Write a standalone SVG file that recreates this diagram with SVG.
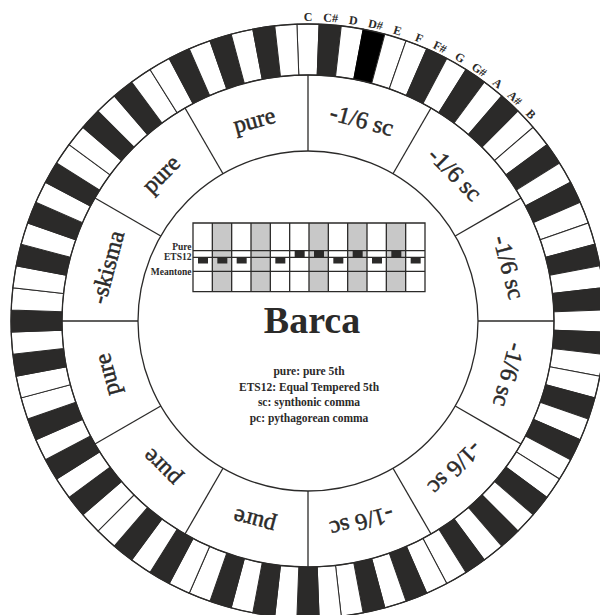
<svg xmlns="http://www.w3.org/2000/svg" xmlns:xlink="http://www.w3.org/1999/xlink" width="600" height="615" viewBox="0 0 600 615">
<style>
.ln{stroke:#2b2a29;stroke-width:1.3;fill:none}
.wk{fill:#ffffff;stroke:#2b2a29;stroke-width:1}
.bk{fill:#2b2a29;stroke:#2b2a29;stroke-width:1}
.hk{fill:#000000;stroke:#000000;stroke-width:1}
.sec{font-family:"Liberation Serif",serif;font-size:24px;fill:#2b2a29;stroke:#2b2a29;stroke-width:0.5;text-anchor:middle}
.kl{font-family:"Liberation Serif",serif;font-weight:bold;font-size:12px;fill:#2b2a29;text-anchor:middle}
.cl{font-family:"Liberation Serif",serif;font-weight:bold;font-size:9.5px;fill:#2b2a29;text-anchor:end}
.lg{font-family:"Liberation Serif",serif;font-weight:bold;font-size:11.5px;fill:#2b2a29;text-anchor:middle}
.ttl{font-family:"Liberation Serif",serif;font-weight:bold;font-size:38px;fill:#2b2a29;text-anchor:middle}
.gr{fill:#c8c8c8}
.mk{fill:#2b2a29}
</style>
<defs>
<path id="key" d="M296.895,24.21 A297,297 0 0 1 319.105,24.21 L317.198,75.17 A246,246 0 0 0 298.802,75.17 Z"/>
<line id="sl" x1="308" y1="151" x2="308" y2="75"/>
</defs>
<rect width="600" height="615" fill="#ffffff"/>
<g id="keyring">
<use xlink:href="#key" class="wk" transform="rotate(0 308 321)"/>
<use xlink:href="#key" class="bk" transform="rotate(4.285714 308 321)"/>
<use xlink:href="#key" class="wk" transform="rotate(8.571429 308 321)"/>
<use xlink:href="#key" class="hk" transform="rotate(12.857143 308 321)"/>
<use xlink:href="#key" class="wk" transform="rotate(17.142857 308 321)"/>
<use xlink:href="#key" class="wk" transform="rotate(21.428571 308 321)"/>
<use xlink:href="#key" class="bk" transform="rotate(25.714286 308 321)"/>
<use xlink:href="#key" class="wk" transform="rotate(30 308 321)"/>
<use xlink:href="#key" class="bk" transform="rotate(34.285714 308 321)"/>
<use xlink:href="#key" class="wk" transform="rotate(38.571429 308 321)"/>
<use xlink:href="#key" class="bk" transform="rotate(42.857143 308 321)"/>
<use xlink:href="#key" class="wk" transform="rotate(47.142857 308 321)"/>
<use xlink:href="#key" class="wk" transform="rotate(51.428571 308 321)"/>
<use xlink:href="#key" class="bk" transform="rotate(55.714286 308 321)"/>
<use xlink:href="#key" class="wk" transform="rotate(60 308 321)"/>
<use xlink:href="#key" class="bk" transform="rotate(64.285714 308 321)"/>
<use xlink:href="#key" class="wk" transform="rotate(68.571429 308 321)"/>
<use xlink:href="#key" class="wk" transform="rotate(72.857143 308 321)"/>
<use xlink:href="#key" class="bk" transform="rotate(77.142857 308 321)"/>
<use xlink:href="#key" class="wk" transform="rotate(81.428571 308 321)"/>
<use xlink:href="#key" class="bk" transform="rotate(85.714286 308 321)"/>
<use xlink:href="#key" class="wk" transform="rotate(90 308 321)"/>
<use xlink:href="#key" class="bk" transform="rotate(94.285714 308 321)"/>
<use xlink:href="#key" class="wk" transform="rotate(98.571429 308 321)"/>
<use xlink:href="#key" class="wk" transform="rotate(102.857143 308 321)"/>
<use xlink:href="#key" class="bk" transform="rotate(107.142857 308 321)"/>
<use xlink:href="#key" class="wk" transform="rotate(111.428571 308 321)"/>
<use xlink:href="#key" class="bk" transform="rotate(115.714286 308 321)"/>
<use xlink:href="#key" class="wk" transform="rotate(120 308 321)"/>
<use xlink:href="#key" class="wk" transform="rotate(124.285714 308 321)"/>
<use xlink:href="#key" class="bk" transform="rotate(128.571429 308 321)"/>
<use xlink:href="#key" class="wk" transform="rotate(132.857143 308 321)"/>
<use xlink:href="#key" class="bk" transform="rotate(137.142857 308 321)"/>
<use xlink:href="#key" class="wk" transform="rotate(141.428571 308 321)"/>
<use xlink:href="#key" class="bk" transform="rotate(145.714286 308 321)"/>
<use xlink:href="#key" class="wk" transform="rotate(150 308 321)"/>
<use xlink:href="#key" class="wk" transform="rotate(154.285714 308 321)"/>
<use xlink:href="#key" class="bk" transform="rotate(158.571429 308 321)"/>
<use xlink:href="#key" class="wk" transform="rotate(162.857143 308 321)"/>
<use xlink:href="#key" class="bk" transform="rotate(167.142857 308 321)"/>
<use xlink:href="#key" class="wk" transform="rotate(171.428571 308 321)"/>
<use xlink:href="#key" class="wk" transform="rotate(175.714286 308 321)"/>
<use xlink:href="#key" class="bk" transform="rotate(180 308 321)"/>
<use xlink:href="#key" class="wk" transform="rotate(184.285714 308 321)"/>
<use xlink:href="#key" class="bk" transform="rotate(188.571429 308 321)"/>
<use xlink:href="#key" class="wk" transform="rotate(192.857143 308 321)"/>
<use xlink:href="#key" class="bk" transform="rotate(197.142857 308 321)"/>
<use xlink:href="#key" class="wk" transform="rotate(201.428571 308 321)"/>
<use xlink:href="#key" class="wk" transform="rotate(205.714286 308 321)"/>
<use xlink:href="#key" class="bk" transform="rotate(210 308 321)"/>
<use xlink:href="#key" class="wk" transform="rotate(214.285714 308 321)"/>
<use xlink:href="#key" class="bk" transform="rotate(218.571429 308 321)"/>
<use xlink:href="#key" class="wk" transform="rotate(222.857143 308 321)"/>
<use xlink:href="#key" class="wk" transform="rotate(227.142857 308 321)"/>
<use xlink:href="#key" class="bk" transform="rotate(231.428571 308 321)"/>
<use xlink:href="#key" class="wk" transform="rotate(235.714286 308 321)"/>
<use xlink:href="#key" class="bk" transform="rotate(240 308 321)"/>
<use xlink:href="#key" class="wk" transform="rotate(244.285714 308 321)"/>
<use xlink:href="#key" class="bk" transform="rotate(248.571429 308 321)"/>
<use xlink:href="#key" class="wk" transform="rotate(252.857143 308 321)"/>
<use xlink:href="#key" class="wk" transform="rotate(257.142857 308 321)"/>
<use xlink:href="#key" class="bk" transform="rotate(261.428571 308 321)"/>
<use xlink:href="#key" class="wk" transform="rotate(265.714286 308 321)"/>
<use xlink:href="#key" class="bk" transform="rotate(270 308 321)"/>
<use xlink:href="#key" class="wk" transform="rotate(274.285714 308 321)"/>
<use xlink:href="#key" class="wk" transform="rotate(278.571429 308 321)"/>
<use xlink:href="#key" class="bk" transform="rotate(282.857143 308 321)"/>
<use xlink:href="#key" class="wk" transform="rotate(287.142857 308 321)"/>
<use xlink:href="#key" class="bk" transform="rotate(291.428571 308 321)"/>
<use xlink:href="#key" class="wk" transform="rotate(295.714286 308 321)"/>
<use xlink:href="#key" class="bk" transform="rotate(300 308 321)"/>
<use xlink:href="#key" class="wk" transform="rotate(304.285714 308 321)"/>
<use xlink:href="#key" class="wk" transform="rotate(308.571429 308 321)"/>
<use xlink:href="#key" class="bk" transform="rotate(312.857143 308 321)"/>
<use xlink:href="#key" class="wk" transform="rotate(317.142857 308 321)"/>
<use xlink:href="#key" class="bk" transform="rotate(321.428571 308 321)"/>
<use xlink:href="#key" class="wk" transform="rotate(325.714286 308 321)"/>
<use xlink:href="#key" class="wk" transform="rotate(330 308 321)"/>
<use xlink:href="#key" class="bk" transform="rotate(334.285714 308 321)"/>
<use xlink:href="#key" class="wk" transform="rotate(338.571429 308 321)"/>
<use xlink:href="#key" class="bk" transform="rotate(342.857143 308 321)"/>
<use xlink:href="#key" class="wk" transform="rotate(347.142857 308 321)"/>
<use xlink:href="#key" class="bk" transform="rotate(351.428571 308 321)"/>
<use xlink:href="#key" class="wk" transform="rotate(355.714286 308 321)"/>
<circle class="ln" cx="308" cy="321" r="297"/>
<circle class="ln" cx="308" cy="321" r="246"/>
</g>
<g id="keylabels">
<text class="kl" x="308" y="21" transform="rotate(0 308 321)">C</text>
<text class="kl" x="308" y="21" transform="rotate(4.285714 308 321)">C#</text>
<text class="kl" x="308" y="21" transform="rotate(8.571429 308 321)">D</text>
<text class="kl" x="308" y="21" transform="rotate(12.857143 308 321)">D#</text>
<text class="kl" x="308" y="21" transform="rotate(17.142857 308 321)">E</text>
<text class="kl" x="308" y="21" transform="rotate(21.428571 308 321)">F</text>
<text class="kl" x="308" y="21" transform="rotate(25.714286 308 321)">F#</text>
<text class="kl" x="308" y="21" transform="rotate(30 308 321)">G</text>
<text class="kl" x="308" y="21" transform="rotate(34.285714 308 321)">G#</text>
<text class="kl" x="308" y="21" transform="rotate(38.571429 308 321)">A</text>
<text class="kl" x="308" y="21" transform="rotate(42.857143 308 321)">A#</text>
<text class="kl" x="308" y="21" transform="rotate(47.142857 308 321)">B</text>
</g>
<g id="connectors">
<circle class="ln" cx="308" cy="321" r="170"/>
<use xlink:href="#sl" class="ln" transform="rotate(0 308 321)"/>
<use xlink:href="#sl" class="ln" transform="rotate(30 308 321)"/>
<use xlink:href="#sl" class="ln" transform="rotate(60 308 321)"/>
<use xlink:href="#sl" class="ln" transform="rotate(90 308 321)"/>
<use xlink:href="#sl" class="ln" transform="rotate(120 308 321)"/>
<use xlink:href="#sl" class="ln" transform="rotate(150 308 321)"/>
<use xlink:href="#sl" class="ln" transform="rotate(180 308 321)"/>
<use xlink:href="#sl" class="ln" transform="rotate(210 308 321)"/>
<use xlink:href="#sl" class="ln" transform="rotate(240 308 321)"/>
<use xlink:href="#sl" class="ln" transform="rotate(270 308 321)"/>
<use xlink:href="#sl" class="ln" transform="rotate(300 308 321)"/>
<use xlink:href="#sl" class="ln" transform="rotate(330 308 321)"/>
</g>
<g id="s1"><text class="sec" x="308" y="121" transform="rotate(15 308 321)">-1/6 sc</text></g>
<g id="s2"><text class="sec" x="308" y="121" transform="rotate(45 308 321)">-1/6 sc</text></g>
<g id="s3"><text class="sec" x="308" y="121" transform="rotate(75 308 321)">-1/6 sc</text></g>
<g id="s4"><text class="sec" x="308" y="121" transform="rotate(105 308 321)">-1/6 sc</text></g>
<g id="s5"><text class="sec" x="308" y="121" transform="rotate(135 308 321)">-1/6 sc</text></g>
<g id="s6"><text class="sec" x="308" y="121" transform="rotate(165 308 321)">-1/6 sc</text></g>
<g id="s7"><text class="sec" x="308" y="121" transform="rotate(195 308 321)">pure</text></g>
<g id="s8"><text class="sec" x="308" y="121" transform="rotate(225 308 321)">pure</text></g>
<g id="s9"><text class="sec" x="308" y="121" transform="rotate(255 308 321)">pure</text></g>
<g id="s10"><text class="sec" x="308" y="121" transform="rotate(285 308 321)">-skisma</text></g>
<g id="s11"><text class="sec" x="308" y="121" transform="rotate(315 308 321)">pure</text></g>
<g id="s12"><text class="sec" x="308" y="121" transform="rotate(345 308 321)">pure</text></g>
<g id="chart">
<rect x="212.33" y="223" width="19.33" height="68.7" class="gr"/>
<rect x="251" y="223" width="19.33" height="68.7" class="gr"/>
<rect x="309" y="223" width="19.33" height="68.7" class="gr"/>
<rect x="347.67" y="223" width="19.33" height="68.7" class="gr"/>
<rect x="386.33" y="223" width="19.33" height="68.7" class="gr"/>
<rect x="198" y="257.3" width="10" height="6.2" class="mk"/>
<rect x="217.33" y="257.3" width="10" height="6.2" class="mk"/>
<rect x="236.67" y="257.3" width="10" height="6.2" class="mk"/>
<rect x="275.33" y="257.3" width="10" height="6.2" class="mk"/>
<rect x="294.67" y="250.7" width="10" height="6.6" class="mk"/>
<rect x="314" y="250.7" width="10" height="6.6" class="mk"/>
<rect x="333.33" y="257.3" width="10" height="6.2" class="mk"/>
<rect x="352.67" y="250.7" width="10" height="6.6" class="mk"/>
<rect x="372" y="257.3" width="10" height="6.2" class="mk"/>
<rect x="391.33" y="250.7" width="10" height="6.6" class="mk"/>
<rect x="410.67" y="257.3" width="10" height="6.2" class="mk"/>
<path class="ln" stroke-width="1.4" d="M193,223H425V291.7H193Z M193,250.7H425 M193,257.3H425 M193,271.3H425 M212.33,223V291.7 M231.67,223V291.7 M251,223V291.7 M270.33,223V291.7 M289.67,223V291.7 M309,223V291.7 M328.33,223V291.7 M347.67,223V291.7 M367,223V291.7 M386.33,223V291.7 M405.67,223V291.7"/>
<text class="cl" x="191.5" y="249.5">Pure</text>
<text class="cl" x="191.5" y="260">ETS12</text>
<text class="cl" x="191.5" y="274.5">Meantone</text>
</g>
<g id="title"><text class="ttl" x="312" y="333">Barca</text></g>
<g id="legend">
<text class="lg" x="309" y="375">pure: pure 5th</text>
<text class="lg" x="309" y="390.5">ETS12: Equal Tempered 5th</text>
<text class="lg" x="309" y="406">sc: synthonic comma</text>
<text class="lg" x="309" y="421.5">pc: pythagorean comma</text>
</g>
</svg>
